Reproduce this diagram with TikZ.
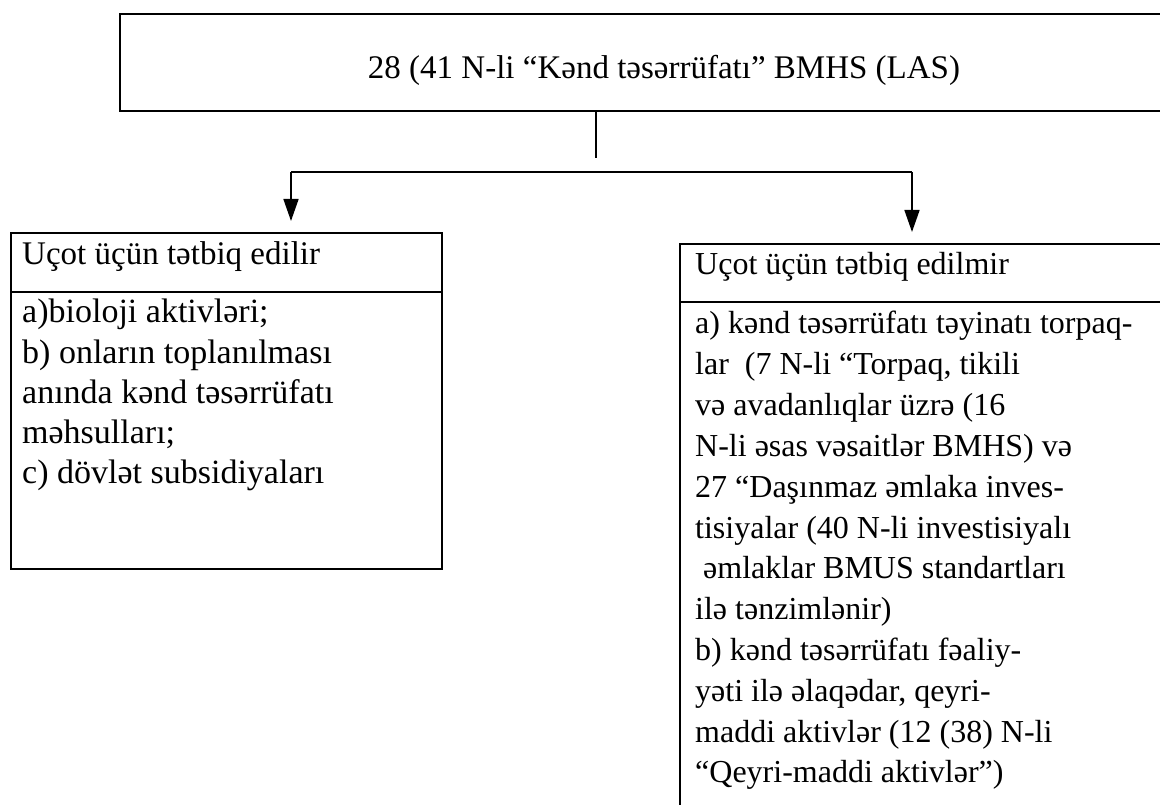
\documentclass[tikz,border=0pt]{standalone}
\usepackage{fontspec}
\setmainfont{Liberation Serif}
\usetikzlibrary{arrows.meta}
\begin{document}
\begin{tikzpicture}[x=1pt,y=-1pt,
  frame/.style={draw, line width=2pt, rectangle, inner sep=0pt, anchor=north west},
  rule/.style={line width=2pt},
  link/.style={line width=1.6pt},
  arrowlink/.style={link, -{Triangle[length=22pt,width=15pt]}, shorten >=11pt},
  txt/.style={anchor=base west, inner sep=0pt, font=\fontsize{33}{40}\selectfont},
  ltxt/.style={txt, font=\fontsize{34}{40}\selectfont},
  rtxt/.style={txt, font=\fontsize{32}{40}\selectfont}]
\clip (0,0) rectangle (1160,805);

% heading box (runs past the right edge)
\node[frame, minimum width=1080pt, minimum height=97pt] (head) at (119,13) {};
\node[txt, anchor=base] (headtext) at (664,79) {28 (41 N-li “Kənd təsərrüfatı” BMHS (LAS)};

% stem below the heading
\coordinate (stemend) at (596,158);
\draw[link] (head.south -| stemend) -- (stemend);

% left box: applied
\node[frame, minimum width=431pt, minimum height=336pt] (lbox) at (10,232) {};
\coordinate (lsep) at (0,292);
\draw[rule] (lbox.west |- lsep) -- (lbox.east |- lsep);
\node[txt] (ltitle) at (22,265) {Uçot üçün tətbiq edilir};
\foreach \line [count=\i] in {
  {a)bioloji aktivləri;},
  {b) onların toplanılması},
  {anında kənd təsərrüfatı},
  {məhsulları;},
  {c) dövlət subsidiyaları}}
  \node[ltxt] (l\i) at (22,{323+40*(\i-1)}) {\line};

% right box: not applied (runs past the right and bottom edges)
\node[frame, minimum width=520pt, minimum height=600pt] (rbox) at (679,243) {};
\coordinate (rsep) at (0,302);
\draw[rule] (rbox.west |- rsep) -- (rbox.east |- rsep);
\node[rtxt] (rtitle) at (695,275) {Uçot üçün tətbiq edilmir};
\foreach \line [count=\i] in {
  {a) kənd təsərrüfatı təyinatı torpaq-},
  {lar\ \ (7 N-li “Torpaq, tikili},
  {və avadanlıqlar üzrə (16},
  {N-li əsas vəsaitlər BMHS) və},
  {27 “Daşınmaz əmlaka inves-},
  {tisiyalar (40 N-li investisiyalı},
  {\ əmlaklar BMUS standartları},
  {ilə tənzimlənir)},
  {b) kənd təsərrüfatı fəaliy-},
  {yəti ilə əlaqədar, qeyri-},
  {maddi aktivlər (12 (38) N-li},
  {“Qeyri-maddi aktivlər”)}}
  \node[rtxt] (r\i) at (695,{334+40.8*(\i-1)}) {\line};

% branches to the two boxes
\coordinate (forkL) at (291,172);
\coordinate (forkR) at (912,172);
\draw[link] (forkL) -- (forkR);
\draw[arrowlink] (forkL) -- (lbox.north -| forkL);
\draw[arrowlink] (forkR) -- (rbox.north -| forkR);
\end{tikzpicture}
\end{document}
